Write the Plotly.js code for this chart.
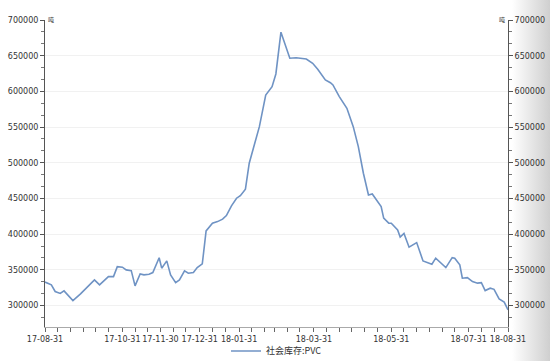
<!DOCTYPE html>
<html>
<head>
<meta charset="utf-8">
<script src="https://cdn.plot.ly/plotly-3.0.1.min.js"></script>
<style>
  html, body { margin: 0; padding: 0; }
  body { width: 550px; height: 361px; background: linear-gradient(to right, #ffffff 0px, #ffffff 512px, #cfcfcf 550px); }
  #chart { width: 550px; height: 361px; }
</style>
</head>
<body>
<div id="chart"></div>
<script>
// 社会库存:PVC (吨)
const dates = [
  "2017-08-31","2017-09-05","2017-09-08","2017-09-12","2017-09-15","2017-09-22","2017-09-28",
  "2017-10-09","2017-10-13","2017-10-20","2017-10-24","2017-10-27","2017-10-31",
  "2017-11-03","2017-11-07","2017-11-10","2017-11-14","2017-11-17","2017-11-21","2017-11-24","2017-11-29",
  "2017-12-01","2017-12-05","2017-12-08","2017-12-12","2017-12-15","2017-12-19","2017-12-22","2017-12-26","2017-12-29",
  "2018-01-02","2018-01-05","2018-01-10","2018-01-14","2018-01-18","2018-01-21","2018-01-25","2018-01-29",
  "2018-02-01","2018-02-05","2018-02-08","2018-02-12","2018-02-16","2018-02-21","2018-02-26",
  "2018-03-01","2018-03-05","2018-03-12","2018-03-17","2018-03-25","2018-03-30",
  "2018-04-03","2018-04-09","2018-04-13","2018-04-15","2018-04-20","2018-04-26",
  "2018-05-01","2018-05-05","2018-05-09","2018-05-13","2018-05-16","2018-05-19","2018-05-23","2018-05-25","2018-05-29","2018-05-31",
  "2018-06-05","2018-06-07","2018-06-10","2018-06-14","2018-06-20","2018-06-25",
  "2018-07-02","2018-07-05","2018-07-08","2018-07-13","2018-07-18","2018-07-20","2018-07-24","2018-07-26","2018-07-30",
  "2018-08-03","2018-08-07","2018-08-10","2018-08-13","2018-08-17","2018-08-20","2018-08-24","2018-08-28","2018-08-31"
];
const stock = [
  333000,329000,319700,317000,320600,307000,316400,
  336000,329000,340600,340600,354600,353800,
  350000,349000,327600,344400,343000,344000,346200,367000,
  352400,362600,343000,332200,336000,348600,345400,346200,353200,
  358400,404600,415400,417600,421000,426000,439600,450400,
  454000,463000,499400,526000,550600,595000,606700,
  624400,683000,646400,647200,645400,639400,
  631000,616000,612200,609000,592700,576300,
  550600,522600,485400,455000,456400,449000,438600,422400,415400,415400,
  406000,396000,401000,381800,388200,362600,
  358000,366400,361600,353200,367200,366400,357000,338400,339200,
  333600,331400,332200,321000,324400,322800,309400,304800,294000
];
const seriesName = "社会库存:PVC";
const unitLabel = "吨";
const xLabelDates = ["2017-08-31","2017-10-31","2017-11-30","2017-12-31","2018-01-31","2018-03-31","2018-05-31","2018-07-31","2018-08-31"];
const xLabelText  = ["17-08-31","17-10-31","17-11-30","17-12-31","18-01-31","18-03-31","18-05-31","18-07-31","18-08-31"];
const yTicks = [300000,350000,400000,450000,500000,550000,600000,650000,700000];

// minor tick positions: 10th, 20th and month end of each month
const minorTicks = [];
for (let m = 8; m <= 19; m++) {
  const y = 2017 + Math.floor(m / 12), mo = m % 12;
  [10, 20].forEach(d => minorTicks.push(new Date(Date.UTC(y, mo, d)).toISOString().slice(0,10)));
  const last = new Date(Date.UTC(y, mo + 1, 0)).toISOString().slice(0,10);
  minorTicks.push(last);
}

const tickFont = {family: "DejaVu Sans, sans-serif", size: 8, color: "#333"};
const lineColor = "#6f93c4";

const traces = [
  {x: dates, y: stock, type: "scatter", mode: "lines", name: seriesName,
   line: {color: lineColor, width: 1.6}, hoverinfo: "x+y"},
  {x: dates, y: stock, type: "scatter", mode: "lines", yaxis: "y2", showlegend: false,
   line: {color: "rgba(0,0,0,0)", width: 0}, hoverinfo: "skip"}
];

const yCommon = {
  range: [270000, 700000], tickmode: "array", tickvals: yTicks, ticktext: yTicks.map(String),
  showline: true, linecolor: "#555", linewidth: 1, ticks: "outside", ticklen: 4, tickcolor: "#555",
  tickfont: tickFont, zeroline: false, automargin: false,
  minor: {dtick: 50000/3, tick0: 300000, ticks: "outside", ticklen: 3, tickcolor: "#777", showgrid: false}
};

const layout = {
  width: 550, height: 361,
  margin: {l: 45, r: 42, t: 20, b: 34, autoexpand: false},
  paper_bgcolor: "rgba(0,0,0,0)", plot_bgcolor: "rgba(0,0,0,0)",
  showlegend: true,
  legend: {orientation: "h", x: 0.5, xanchor: "center", y: -0.078, yanchor: "middle",
           font: {family: "Noto Sans CJK SC, DejaVu Sans, sans-serif", size: 9, color: "#333"},
           bgcolor: "rgba(0,0,0,0)"},
  xaxis: {
    type: "date", range: ["2017-08-31", "2018-08-31"],
    tickmode: "array", tickvals: xLabelDates, ticktext: xLabelText,
    showline: true, linecolor: "#aaa", linewidth: 1, ticks: "outside", ticklen: 4, tickcolor: "#666",
    tickfont: tickFont, showgrid: false, zeroline: false, tickangle: 0, automargin: false,
    minor: {tickmode: "array", tickvals: minorTicks, ticks: "outside", ticklen: 4, tickcolor: "#666", showgrid: false}
  },
  yaxis: Object.assign({}, yCommon, {side: "left", showgrid: true, gridcolor: "#f1f1f1", gridwidth: 1}),
  yaxis2: Object.assign({}, yCommon, {side: "right", overlaying: "y", showgrid: false}),
  annotations: [
    {text: unitLabel, xref: "paper", yref: "paper", x: 0, y: 1, xanchor: "left", yanchor: "bottom",
     xshift: 1, yshift: -6, showarrow: false, font: {family: "Noto Sans CJK SC, sans-serif", size: 6, color: "#333"}},
    {text: unitLabel, xref: "paper", yref: "paper", x: 1, y: 1, xanchor: "right", yanchor: "bottom",
     xshift: -1, yshift: -6, showarrow: false, font: {family: "Noto Sans CJK SC, sans-serif", size: 6, color: "#333"}}
  ]
};

Plotly.newPlot("chart", traces, layout, {displayModeBar: false, staticPlot: true});
</script>
</body>
</html>
